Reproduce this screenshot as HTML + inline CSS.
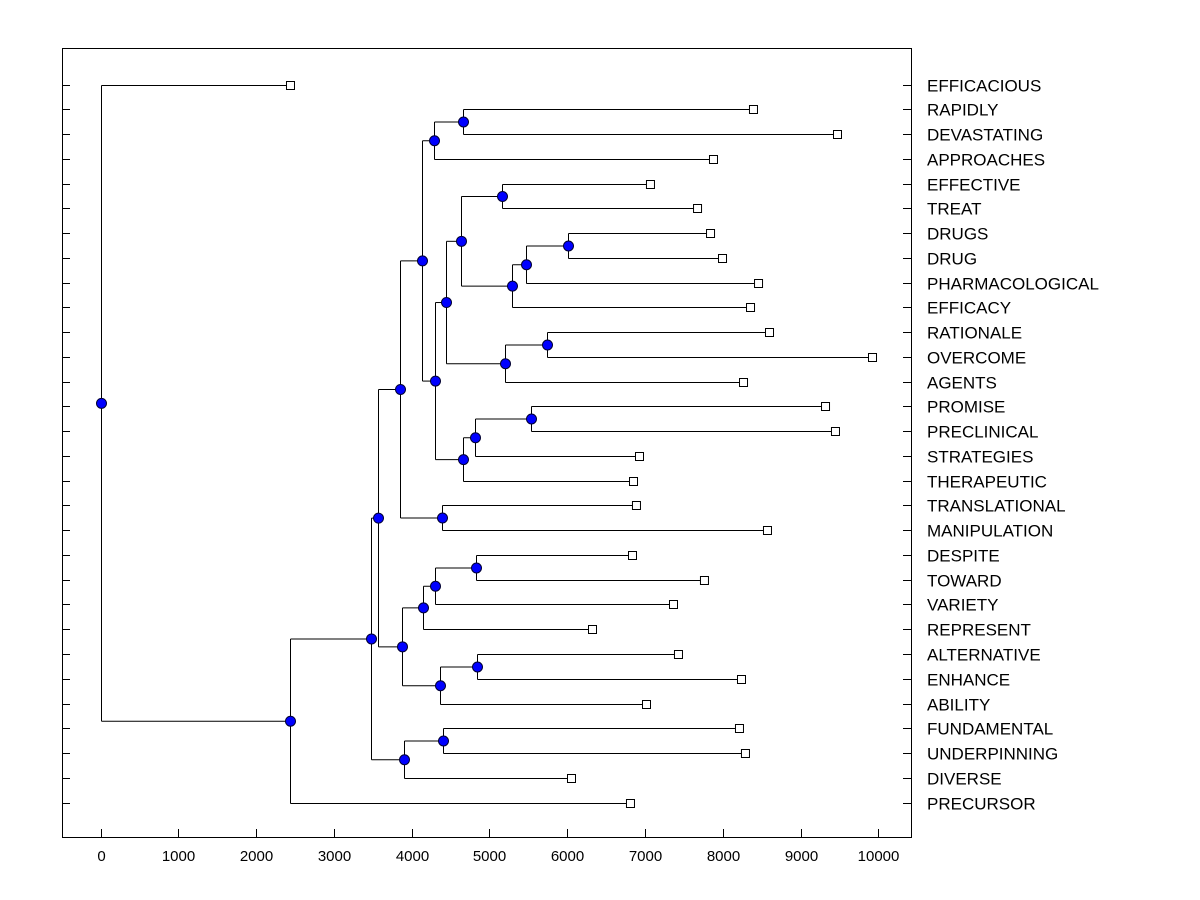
<!DOCTYPE html>
<html><head><meta charset="utf-8"><style>
html,body{margin:0;padding:0;background:#fff;}
svg{display:block;font-family:"Liberation Sans",Arial,sans-serif;}
</style></head><body>
<svg id="chart" width="1200" height="900" xmlns="http://www.w3.org/2000/svg">
<rect x="0" y="0" width="1200" height="900" fill="#fff"/>
<rect x="62.5" y="48.5" width="849" height="789" fill="none" stroke="#000" stroke-width="1"/>
<g id="g-axis"></g>
<g id="g-tree"></g>
<g id="g-marks"></g>
</svg>
<script>
// Leaf labels (top to bottom) and their merge heights
const leafLabels = ["EFFICACIOUS","RAPIDLY","DEVASTATING","APPROACHES","EFFECTIVE","TREAT","DRUGS","DRUG","PHARMACOLOGICAL","EFFICACY","RATIONALE","OVERCOME","AGENTS","PROMISE","PRECLINICAL","STRATEGIES","THERAPEUTIC","TRANSLATIONAL","MANIPULATION","DESPITE","TOWARD","VARIETY","REPRESENT","ALTERNATIVE","ENHANCE","ABILITY","FUNDAMENTAL","UNDERPINNING","DIVERSE","PRECURSOR"];
const leafValues = [2442,8393,9473,7879,7069,7674,7841,7995,8458,8355,8599,9923,8265,9319,9447,6928,6851,6889,8573,6838,7763,7365,6324,7429,8239,7018,8213,8290,6054,6812];
// Internal nodes: [name, height, childA, childB] ; children are leaf indices (numbers) or node names
const nodeNames = ["BB","AA","Z","Y","V","X","W","R","U","T","S","P","Q","O","M","N","F","K","J","H","L","I","G","C","E","D","B","A","root"];
const nodeHeights = [6010,5470,5290,5160,4635,5740,5200,4440,5535,4815,4660,4300,4660,4290,4135,4390,3850,4830,4300,4150,4840,4365,3880,3570,4405,3905,3480,2440,0];
const nodeChildren = [[6,7],["BB",8],["AA",9],[4,5],["Y","Z"],[10,11],["X",12],["V","W"],[13,14],["U",15],["T",16],["R","S"],[1,2],["Q",3],["O","P"],[17,18],["M","N"],[19,20],["K",21],["J",22],[23,24],["L",25],["H","I"],["F","G"],[26,27],["E",28],["C","D"],["B",29],[0,"A"]];
const xTicks = [0,1000,2000,3000,4000,5000,6000,7000,8000,9000,10000];

const NS="http://www.w3.org/2000/svg";
const X0=100.5, XS=0.0778, Y0=84.5, YS=24.76;
const xs=v=>X0+v*XS;
const ys=i=>Y0+i*YS;
function mk(tag,attrs,parent){const e=document.createElementNS(NS,tag);for(const k in attrs)e.setAttribute(k,attrs[k]);parent.appendChild(e);return e;}
const gA=document.getElementById("g-axis"),gT=document.getElementById("g-tree"),gM=document.getElementById("g-marks");

xTicks.forEach(t=>{
  const x=Math.round(xs(t))+0.5;
  const l=mk("line",{x1:x,x2:x,y1:829,y2:837,stroke:"#000"},gA);
  
  
  const tx=mk("text",{x:x,y:861,"font-size":"15","text-anchor":"middle",fill:"#000"},gA);
  tx.textContent=t;
  
  
});
leafLabels.forEach((lab,i)=>{
  const y=Math.round(ys(i))+0.5;
  const l1=mk("line",{x1:62,x2:70,y1:y,y2:y,stroke:"#000"},gA);
  
  
  const l2=mk("line",{x1:903,x2:911,y1:y,y2:y,stroke:"#000"},gA);
  
  
  const t=mk("text",{x:927,y:y+6,"font-size":"17",fill:"#000"},gA);
  t.textContent=lab;
  
  
});

const pos={};
leafValues.forEach((v,i)=>{pos[i]={x:xs(v),y:Math.round(ys(i))+0.5};});
nodeNames.forEach((n,k)=>{
  const [a,b]=nodeChildren[k];
  const pa=pos[a],pb=pos[b];
  const x=Math.round(xs(nodeHeights[k]))+0.5;
  pos[n]={x:x,y:(pa.y+pb.y)/2};
  const v=mk("line",{x1:x,x2:x,y1:pa.y,y2:pb.y,stroke:"#000"},gT);
  
  
  [pa,pb].forEach(p=>{
    const h=mk("line",{x1:x,x2:p.x,y1:p.y,y2:p.y,stroke:"#000"},gT);
    
    
  });
});
leafValues.forEach((v,i)=>{
  const p=pos[i];
  const r=mk("rect",{x:p.x-4,y:p.y-4,width:8,height:8,fill:"#fff",stroke:"#000"},gM);
  
  
});
nodeNames.forEach(n=>{
  const p=pos[n];
  const c=mk("circle",{cx:p.x,cy:p.y,r:5,fill:"#0000ff",stroke:"#000033","stroke-width":1},gM);
  
  
});
</script>
</body></html>
